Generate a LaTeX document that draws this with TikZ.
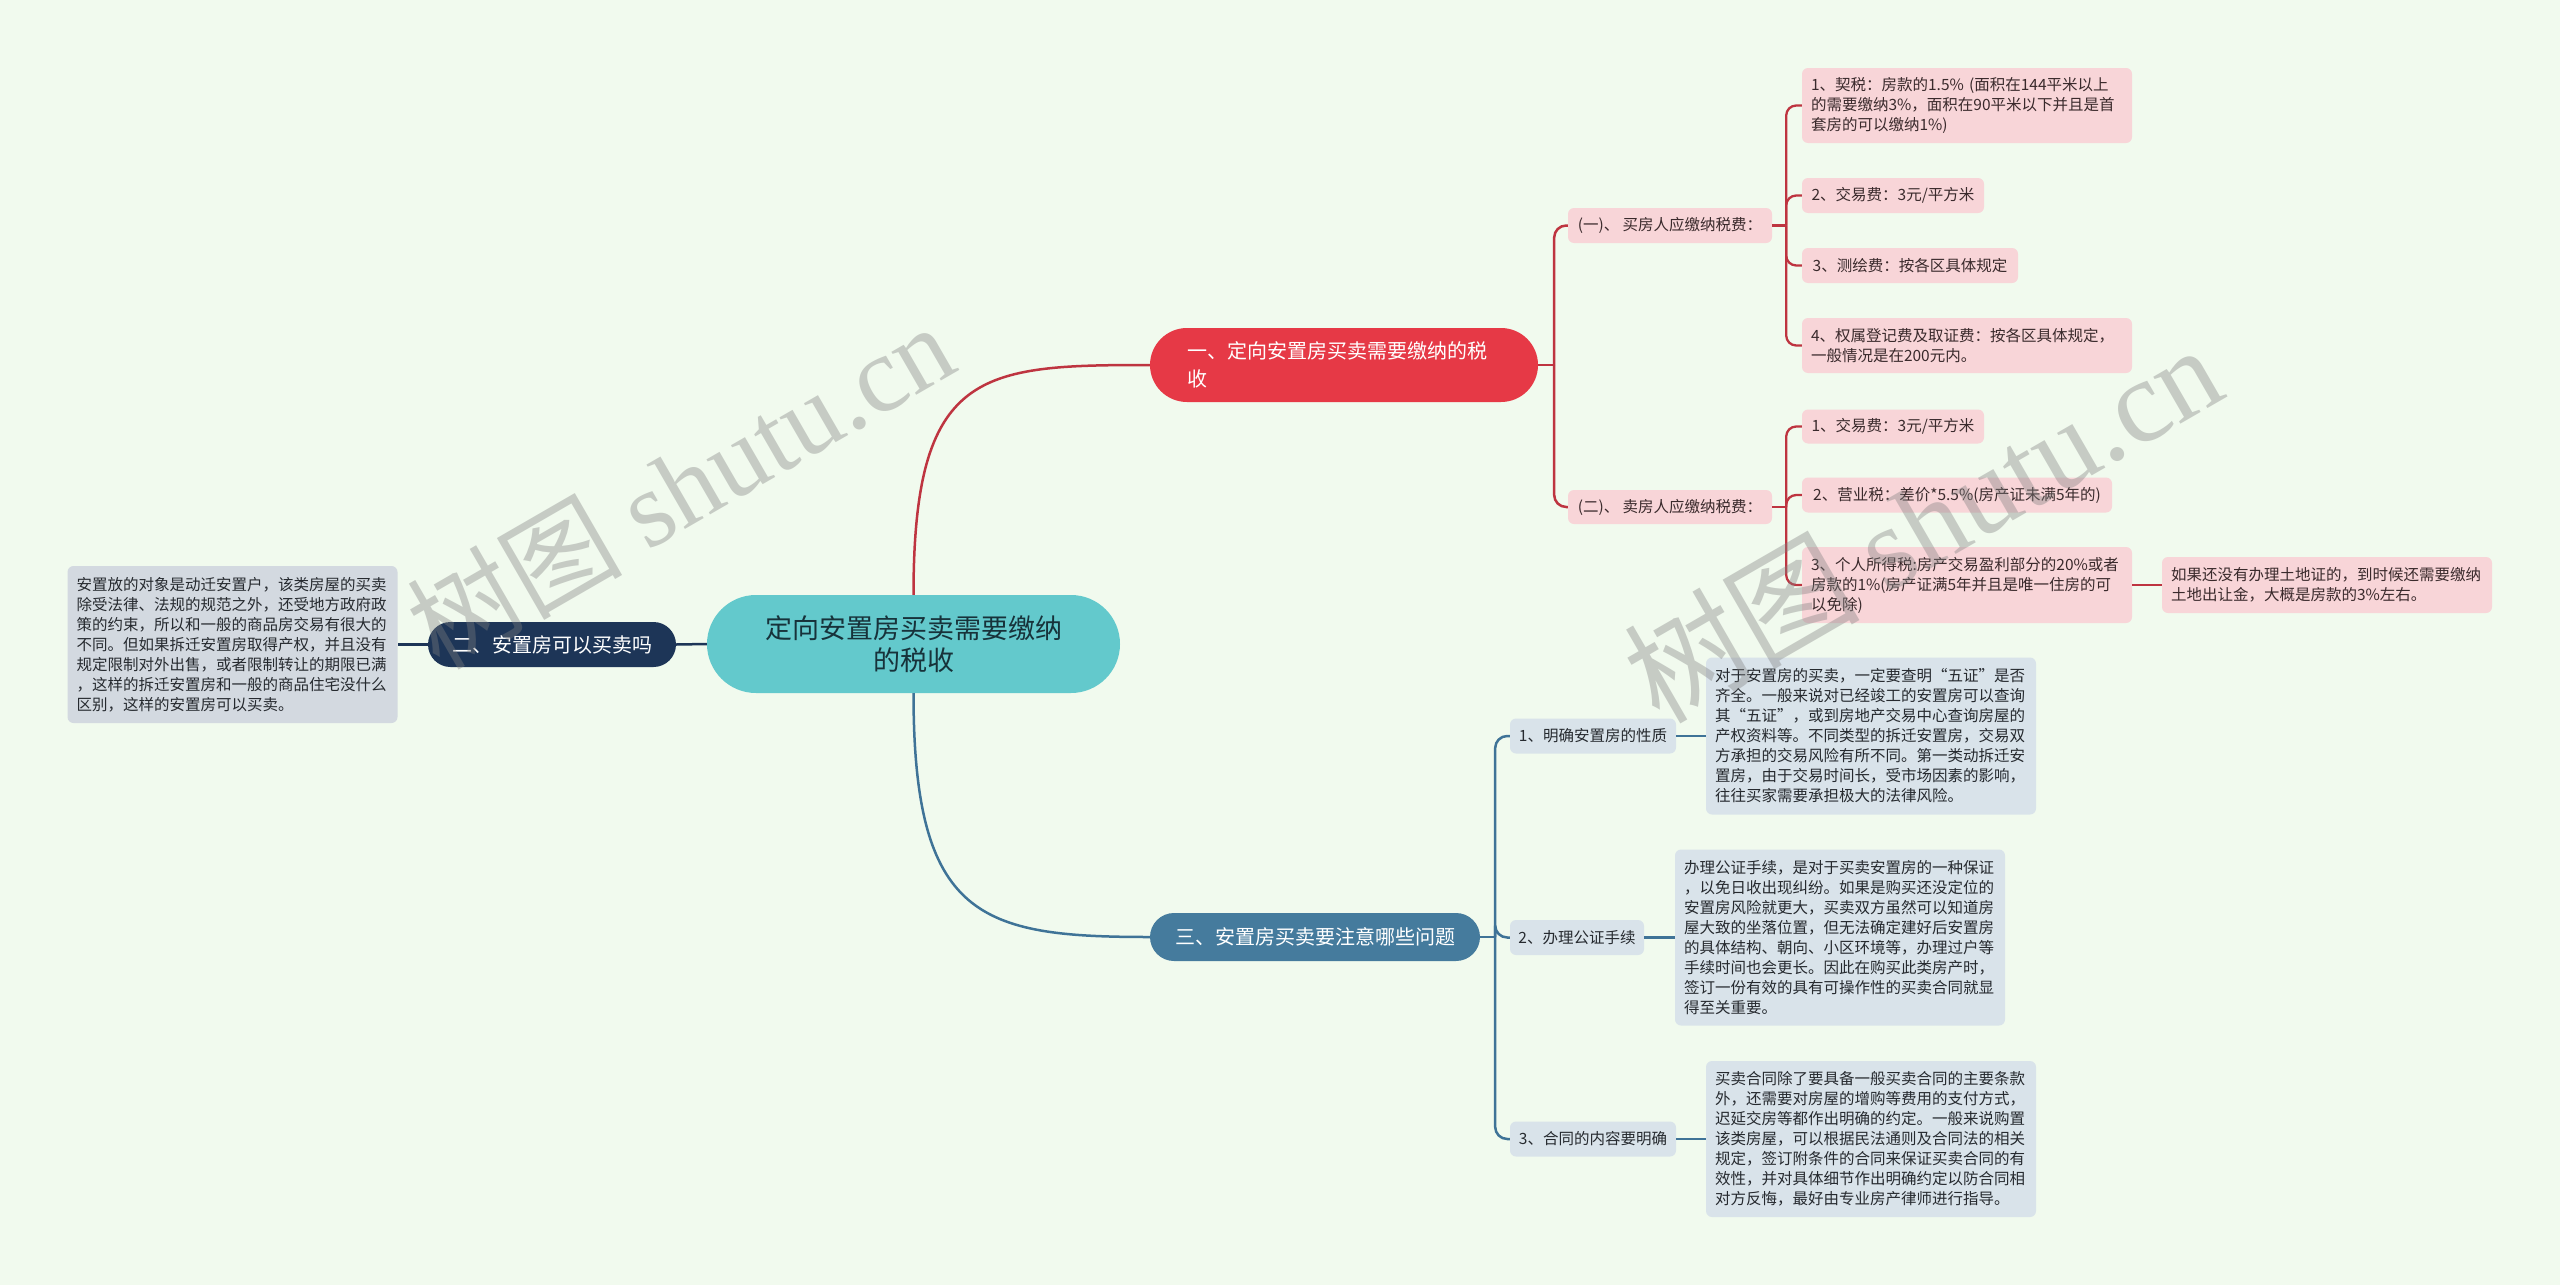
\documentclass[tikz,border=0pt]{standalone}
\usepackage{fontspec}
\setmainfont{Noto Sans CJK SC}
\newfontfamily\wmlat{Liberation Serif}
\newfontfamily\cjkf{Noto Sans CJK SC}
\newcommand\myfs[2]{\fontsize{#1pt}{#2pt}\selectfont}
\definecolor{bg}{HTML}{F1FAEE}
\definecolor{cred}{HTML}{E63946}
\definecolor{credline}{HTML}{BE3440}
\definecolor{cpink}{HTML}{F8D5D8}
\definecolor{cpinktext}{HTML}{3A2A2C}
\definecolor{cteal}{HTML}{63C9CC}
\definecolor{ctealtext}{HTML}{17323A}
\definecolor{cnavy}{HTML}{1D3557}
\definecolor{cblue}{HTML}{457B9D}
\definecolor{cblueline}{HTML}{3F7397}
\definecolor{cbluebox}{HTML}{D9E3EA}
\definecolor{cgraybox}{HTML}{D3D9E0}
\definecolor{cdark}{HTML}{262A2F}
\begin{document}
\begin{tikzpicture}[x=1pt,y=-1pt,
  every node/.style={inner sep=0pt},
  small/.style={font=\myfs{15.5}{20}},
  pinkbox/.style={small, fill=cpink, text=cpinktext, rounded corners=6pt},
  bluebox/.style={small, fill=cbluebox, text=cdark, rounded corners=6pt},
  graybox/.style={small, fill=cgraybox, text=cdark, rounded corners=6pt},
  para/.style={align=left, inner xsep=9pt, text width=#1},
  redln/.style={draw=credline, line width=2.5pt},
  blueln/.style={draw=cblueline, line width=2.5pt},
  navyln/.style={draw=cnavy, line width=2.5pt},
  wm/.style={text=black!50, opacity=0.38, rotate=30}
]
\fill[bg] (0,0) rectangle (2560,1285);
\useasboundingbox (0,0) rectangle (2560,1285);

% central and main branches
\node[fill=cteal, text=ctealtext, rounded corners=49pt, minimum width=413pt, minimum height=98pt,
  align=center, font=\myfs{27}{32}] (ctr) at (913.5,644) {定向安置房买卖需要缴纳\\的税收};
\node[fill=cred, text=white, rounded corners=37pt, minimum height=74pt, inner xsep=37pt,
  text width=314pt, align=left, font=\myfs{20}{28}] (red) at (1344,365) {一、定向安置房买卖需要缴纳的税\\收};
\node[fill=cnavy, text=white, rounded corners=22.5pt, minimum width=248pt, minimum height=45pt,
  font=\myfs{20}{24}] (navy) at (552,644.5) {二、安置房可以买卖吗};
\node[fill=cblue, text=white, rounded corners=24pt, minimum width=330pt, minimum height=48pt,
  font=\myfs{20}{24}] (blue) at (1315,937) {三、安置房买卖要注意哪些问题};

% left text
\node[graybox, para=312pt, minimum height=157pt] (lt) at (232.5,644.5) {安置放的对象是动迁安置户，该类房屋的买卖\\除受法律、法规的规范之外，还受地方政府政\\策的约束，所以和一般的商品房交易有很大的\\不同。但如果拆迁安置房取得产权，并且没有\\规定限制对外出售，或者限制转让的期限已满\\，这样的拆迁安置房和一般的商品住宅没什么\\区别，这样的安置房可以买卖。};

% red sub nodes
\node[pinkbox, minimum width=204pt, minimum height=35pt] (s1) at (1670,225.5) {(一)、 买房人应缴纳税费：};
\node[pinkbox, minimum width=204pt, minimum height=34pt] (s2) at (1670,507) {(二)、 卖房人应缴纳税费：};

\node[pinkbox, para=312pt, minimum height=75pt] (a1) at (1967,105.5) {1、契税：房款的1.5\% (面积在144平米以上\\的需要缴纳3\%，面积在90平米以下并且是首\\套房的可以缴纳1\%)};
\node[pinkbox, minimum width=182pt, minimum height=35pt] (a2) at (1893,195.5) {2、交易费：3元/平方米};
\node[pinkbox, minimum width=216pt, minimum height=35pt] (a3) at (1910,265.5) {3、测绘费：按各区具体规定};
\node[pinkbox, para=312pt, minimum height=55pt] (a4) at (1967,345.5) {4、权属登记费及取证费：按各区具体规定，\\一般情况是在200元内。};

\node[pinkbox, minimum width=182pt, minimum height=34pt] (b1) at (1893,426.5) {1、交易费：3元/平方米};
\node[pinkbox, minimum width=310pt, minimum height=35pt] (b2) at (1957,495) {2、营业税：差价*5.5\%(房产证未满5年的)};
\node[pinkbox, para=312pt, minimum height=76pt] (b3) at (1967,585) {3、个人所得税:房产交易盈利部分的20\%或者\\房款的1\%(房产证满5年并且是唯一住房的可\\以免除)};
\node[pinkbox, para=312pt, minimum height=56pt] (b3c) at (2327,585) {如果还没有办理土地证的，到时候还需要缴纳\\土地出让金，大概是房款的3\%左右。};

% blue sub nodes
\node[bluebox, minimum width=166pt, minimum height=35pt] (c1) at (1593,736) {1、明确安置房的性质};
\node[bluebox, para=312pt, minimum height=157pt] (c1t) at (1871,736) {对于安置房的买卖，一定要查明“五证”是否\\齐全。一般来说对已经竣工的安置房可以查询\\其“五证”，或到房地产交易中心查询房屋的\\产权资料等。不同类型的拆迁安置房，交易双\\方承担的交易风险有所不同。第一类动拆迁安\\置房，由于交易时间长，受市场因素的影响，\\往往买家需要承担极大的法律风险。};
\node[bluebox, minimum width=134pt, minimum height=35pt] (c2) at (1577,937.5) {2、办理公证手续};
\node[bluebox, para=312pt, minimum height=176pt] (c2t) at (1840,937.5) {办理公证手续，是对于买卖安置房的一种保证\\，以免日收出现纠纷。如果是购买还没定位的\\安置房风险就更大，买卖双方虽然可以知道房\\屋大致的坐落位置，但无法确定建好后安置房\\的具体结构、朝向、小区环境等，办理过户等\\手续时间也会更长。因此在购买此类房产时，\\签订一份有效的具有可操作性的买卖合同就显\\得至关重要。};
\node[bluebox, minimum width=166pt, minimum height=35pt] (c3) at (1593,1139) {3、合同的内容要明确};
\node[bluebox, para=312pt, minimum height=156pt] (c3t) at (1871,1139) {买卖合同除了要具备一般买卖合同的主要条款\\外，还需要对房屋的增购等费用的支付方式，\\迟延交房等都作出明确的约定。一般来说购置\\该类房屋，可以根据民法通则及合同法的相关\\规定，签订附条件的合同来保证买卖合同的有\\效性，并对具体细节作出明确约定以防合同相\\对方反悔，最好由专业房产律师进行指导。};

% junction coordinates
\coordinate (rj) at ([xshift=16pt]red.east);
\coordinate (sj1) at ([xshift=14pt]s1.east);
\coordinate (sj2) at ([xshift=14pt]s2.east);
\coordinate (bj) at ([xshift=15pt]blue.east);

% main connectors
\draw[redln] (ctr.north) .. controls +(0,-225) and +(-170,0) .. (red.west);
\draw[blueln] (ctr.south) .. controls +(0,225) and +(-170,0) .. (blue.west);
\draw[navyln] (ctr.west) -- (navy.east);
\draw[navyln] (navy.west) -- (lt.east);

% red sub connectors
\draw[redln] (red.east) -- (rj);
\draw[redln, rounded corners=12pt] (rj) |- (s1.west);
\draw[redln, rounded corners=12pt] (rj) |- (s2.west);
\draw[redln] (s1.east) -- (sj1);
\foreach \n in {a1,a2,a3,a4} \draw[redln, line width=2.3pt, rounded corners=10pt] (sj1) |- (\n.west);
\draw[redln] (s2.east) -- (sj2);
\foreach \n in {b1,b2,b3} \draw[redln, line width=2.3pt, rounded corners=10pt] (sj2) |- (\n.west);
\draw[redln] (b3.east) -- (b3c.west);

% blue sub connectors
\draw[blueln] (blue.east) -- (bj);
\foreach \n in {c1,c2,c3} \draw[blueln, rounded corners=12pt] (bj) |- (\n.west);
\draw[blueln] (c1.east) -- (c1t.west);
\draw[blueln] (c2.east) -- (c2t.west);
\draw[blueln] (c3.east) -- (c3t.west);

% watermarks
\node[wm] (wm1) at (680,485) {\myfs{108}{108}\cjkf 树图 \wmlat shutu.cn};
\node[wm] (wm2) at (1922,522) {\myfs{118}{118}\cjkf 树图 \wmlat shutu.cn};
\end{tikzpicture}
\end{document}
